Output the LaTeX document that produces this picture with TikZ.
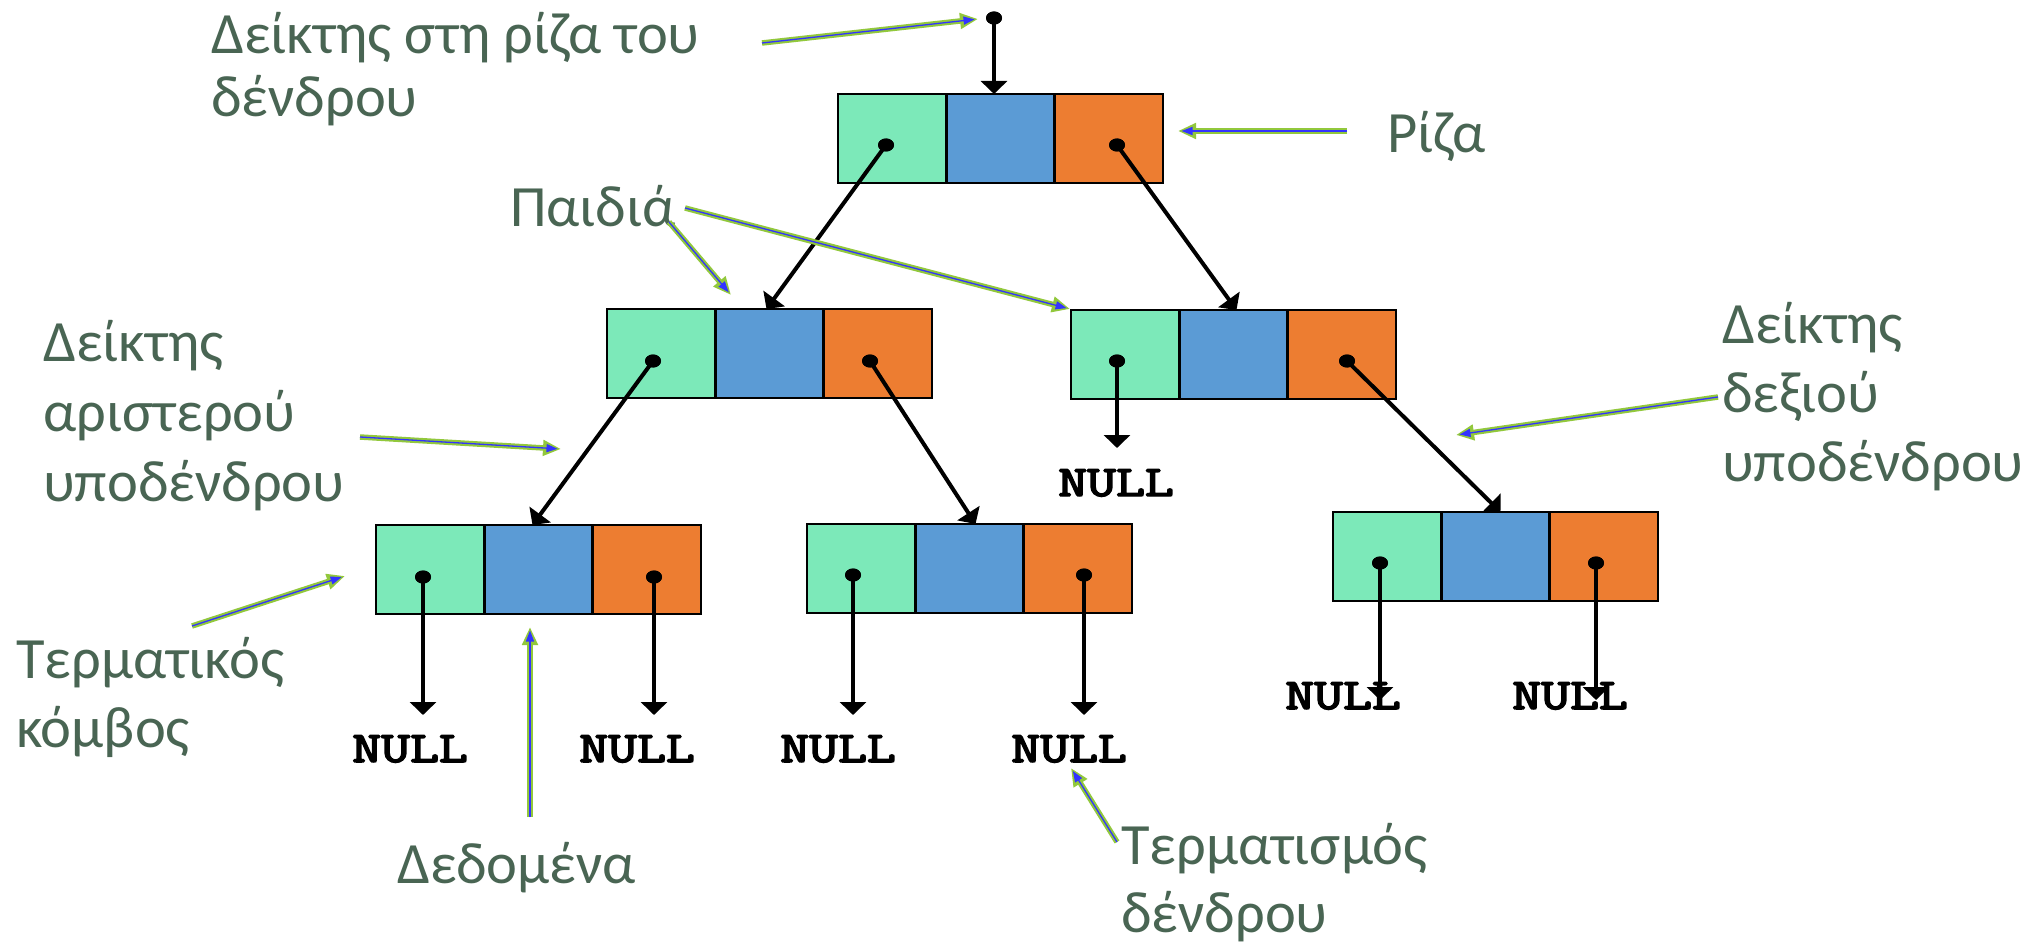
\documentclass[tikz,border=0pt]{standalone}
\usepackage{fontspec}
\setmainfont{Carlito}
\newfontfamily\codefont{Latin Modern Mono}[FakeBold=3.4]
\usetikzlibrary{arrows.meta,shapes.geometric}

\definecolor{cellmint}{RGB}{124,233,185}
\definecolor{cellblue}{RGB}{91,155,213}
\definecolor{cellorange}{RGB}{237,125,49}
\definecolor{labelgreen}{RGB}{73,101,83}
\definecolor{calloutgreen}{RGB}{146,200,60}
\definecolor{calloutblue}{RGB}{51,51,255}

\tikzset{
  cell/.style={draw=black, line width=2.5pt, minimum width=108.33pt, minimum height=89pt,
    inner sep=0pt, outer sep=0pt, anchor=north west},
  ptrdot/.style={ellipse, fill=black, minimum width=16pt, minimum height=13pt, inner sep=0pt},
  ptr/.style={line width=4pt, -{Triangle[width=26pt,length=13pt]}},
  callout/.style={draw=calloutgreen, line width=5.5pt, -{Triangle[length=18pt,width=15pt]}},
  calloutcore/.style={draw=calloutblue, line width=1.3pt, shorten >=3.5pt,
    -{Triangle[length=11pt,width=8pt]}},
  lbl/.style={text=labelgreen, font=\fontsize{58.5}{70}\selectfont, inner sep=0pt, anchor=base west},
  nulltxt/.style={font=\codefont\fontsize{56}{56}\selectfont, inner sep=0pt, anchor=base},
}

% a tree node: left pointer, data, right pointer
\newcommand\listnode[3]{%
  \node[cell, fill=cellmint] (#1-l) at (#2,#3) {};
  \node[cell, fill=cellblue] (#1-d) at (#1-l.north east) {};
  \node[cell, fill=cellorange] (#1-r) at (#1-d.north east) {};
}
% green annotation arrow with blue core
\newcommand\callout[2]{%
  \draw[callout] (#1) -- (#2);
  \draw[calloutcore] (#1) -- (#2);
}
% the NULL marker, slightly flattened
\newcommand\nullword{\scalebox{1}[0.78]{NULL}}

\begin{document}
\begin{tikzpicture}[x=1pt,y=-1pt]
\useasboundingbox[fill=white] (0,0) rectangle (2035,944);

% nodes of the tree
\listnode{root}{838}{94}
\listnode{ll}{607}{309}
\listnode{lr}{1071}{310}
\listnode{a}{376}{525}
\listnode{b}{807}{524}
\listnode{c}{1333}{512}

% NULL terminators
\node[nulltxt] (lrnull) at (1116,496) {\nullword};
\node[nulltxt] (anull1) at (410,762) {\nullword};
\node[nulltxt] (anull2) at (637,762) {\nullword};
\node[nulltxt] (bnull1) at (838,762) {\nullword};
\node[nulltxt] (bnull2) at (1069,762) {\nullword};
\node[nulltxt] (cnull1) at (1343,709) {\nullword};
\node[nulltxt] (cnull2) at (1570,709) {\nullword};

% pointer dots
\node[ptrdot] (top) at (994,18) {};
\node[ptrdot] (root-lp) at (886,145) {};
\node[ptrdot] (root-rp) at (1117,145) {};
\node[ptrdot] (ll-lp) at (653,361) {};
\node[ptrdot] (ll-rp) at (870,361) {};
\node[ptrdot] (lr-lp) at (1117,361) {};
\node[ptrdot] (lr-rp) at (1347,361) {};
\node[ptrdot] (a-lp) at (423,577) {};
\node[ptrdot] (a-rp) at (654,577) {};
\node[ptrdot] (b-lp) at (853,575) {};
\node[ptrdot] (b-rp) at (1084,575) {};
\node[ptrdot] (c-lp) at (1380,563) {};
\node[ptrdot] (c-rp) at (1596,563) {};

% ends of the null pointers
\coordinate (lr-ln) at (1117,448);
\coordinate (a-ln) at (423,715);
\coordinate (a-rn) at (654,715);
\coordinate (b-ln) at (853,715);
\coordinate (b-rn) at (1084,715);
\coordinate (c-ln) at (1380,700);
\coordinate (c-rn) at (1596,700);

% pointers between nodes
\draw[ptr] (top.center) -- (top.center |- root-d.north);
\draw[ptr] (root-lp.center) -- ([xshift=-3pt]ll-d.north);
\draw[ptr] (root-rp.center) -- ([xshift=3pt]lr-d.north);
\draw[ptr] (ll-lp.center) -- ([xshift=-6pt]a-d.north);
\draw[ptr] (ll-rp.center) -- ([xshift=6pt]b-d.north);
\draw[ptr] (lr-rp.center) -- ([xshift=5pt]c-d.north);
\draw[ptr] (lr-lp.center) -- (lr-ln);
\draw[ptr] (a-lp.center) -- (a-ln);
\draw[ptr] (a-rp.center) -- (a-rn);
\draw[ptr] (b-lp.center) -- (b-ln);
\draw[ptr] (b-rp.center) -- (b-rn);
\draw[ptr] (c-lp.center) -- (c-ln);
\draw[ptr] (c-rp.center) -- (c-rn);

% redraw dots on top of the lines
\foreach \d in {top,root-lp,root-rp,ll-lp,ll-rp,lr-lp,lr-rp,a-lp,a-rp,b-lp,b-rp,c-lp,c-rp}
  \fill (\d) ellipse [x radius=8pt, y radius=6.5pt];

% labels
\node[lbl] (lblroot1) at (211,54) {Δείκτης στη ρίζα του};
\node[lbl] (lblroot2) at (211,117) {δένδρου};
\node[lbl] (lblriza) at (1387,153) {Ρίζα};
\node[lbl] (lblpaidia) at (510,227) {Παιδιά};
\node[lbl] (lblleft1) at (43,361) {Δείκτης};
\node[lbl] (lblleft2) at (43,431) {αριστερού};
\node[lbl] (lblleft3) at (43,501) {υποδένδρου};
\node[lbl] (lblright1) at (1722,343) {Δείκτης};
\node[lbl] (lblright2) at (1722,412) {δεξιού};
\node[lbl] (lblright3) at (1722,481) {υποδένδρου};
\node[lbl] (lblleaf1) at (16,678) {Τερματικός};
\node[lbl] (lblleaf2) at (16,747) {κόμβος};
\node[lbl] (lbldata) at (397,883) {Δεδομένα};
\node[lbl] (lblend1) at (1121,864) {Τερματισμός};
\node[lbl] (lblend2) at (1121,932) {δένδρου};

% annotation arrows
\coordinate (c1s) at (762,43);   \coordinate (c1e) at (978,19);
\coordinate (c2s) at (1347,131); \coordinate (c2e) at (1178,131);
\coordinate (c3s) at (669,222);  \coordinate (c3e) at (731,295);
\coordinate (c4s) at (685,208);  \coordinate (c4e) at (1070,309);
\coordinate (c5s) at (360,437);  \coordinate (c5e) at (561,449);
\coordinate (c6s) at (192,626);  \coordinate (c6e) at (345,576);
\coordinate (c7s) at (530,817);  \coordinate (c7e) at (530,627);
\coordinate (c8s) at (1117,842); \coordinate (c8e) at (1071,768);
\coordinate (c9s) at (1718,397); \coordinate (c9e) at (1456,435);
\callout{c1s}{c1e}
\callout{c2s}{c2e}
\callout{c3s}{c3e}
\callout{c4s}{c4e}
\callout{c5s}{c5e}
\callout{c6s}{c6e}
\callout{c7s}{c7e}
\callout{c8s}{c8e}
\callout{c9s}{c9e}
\end{tikzpicture}
\end{document}
